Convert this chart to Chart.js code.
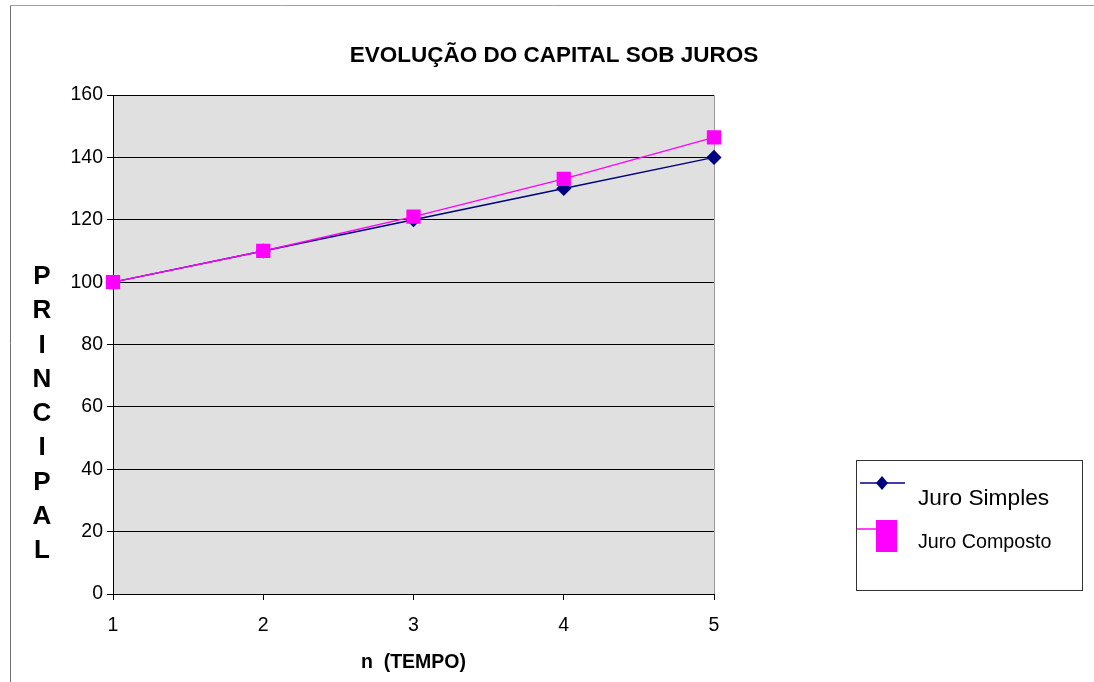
<!DOCTYPE html>
<html>
<head>
<meta charset="utf-8">
<script src="https://cdn.jsdelivr.net/npm/chart.js@4"></script>
<style>
  html, body { margin: 0; padding: 0; background: #fff; }
  #chart { display: block; }
</style>
</head>
<body>
<canvas id="chart" width="1094" height="682"></canvas>
<script>
const periods = ["1", "2", "3", "4", "5"];
const juroSimples = [100, 110, 120, 130, 140];
const juroComposto = [100, 110, 121, 133.1, 146.41];
const seriesNames = ["Juro Simples", "Juro Composto"];
const chartTitle = "EVOLUÇÃO DO CAPITAL SOB JUROS";
const yTitle = "PRINCIPAL";
const xTitle = "n  (TEMPO)";

const FONT = "'Liberation Sans', Arial, sans-serif";

const decor = {
  id: "decor",
  beforeDraw(chart) {
    const { ctx, chartArea: a } = chart;
    ctx.save();
    // outer frame
    ctx.strokeStyle = "#a0a0a0";
    ctx.lineWidth = 1;
    ctx.beginPath();
    ctx.moveTo(10.5, 5.5);
    ctx.lineTo(1094, 5.5);
    ctx.stroke();
    ctx.strokeStyle = "#707070";
    ctx.beginPath();
    ctx.moveTo(10.5, 5.5);
    ctx.lineTo(10.5, 682);
    ctx.stroke();
    // plot background
    ctx.fillStyle = "#e0e0e0";
    ctx.fillRect(a.left, a.top, a.right - a.left, a.bottom - a.top);
    ctx.strokeStyle = "#9a9a9a";
    ctx.beginPath();
    ctx.moveTo(a.left, a.top + 0.5);
    ctx.lineTo(a.right + 0.5, a.top + 0.5);
    ctx.lineTo(a.right + 0.5, a.bottom);
    ctx.stroke();
    ctx.restore();
  },
  afterDraw(chart) {
    const ctx = chart.ctx;
    ctx.save();
    ctx.fillStyle = "#000";
    // title
    ctx.font = "bold 22.5px " + FONT;
    ctx.textAlign = "center";
    ctx.textBaseline = "middle";
    ctx.fillText(chartTitle, 554, 56);
    // stacked y title
    ctx.font = "bold 26px " + FONT;
    yTitle.split("").forEach((ch, i) => {
      ctx.fillText(ch, 42, 277 + i * 34.25);
    });
    // legend box
    ctx.strokeStyle = "#333";
    ctx.lineWidth = 1;
    ctx.strokeRect(856.5, 460.5, 226, 130);
    const ds = chart.data.datasets;
    // Juro Simples
    ctx.strokeStyle = ds[0].borderColor;
    ctx.lineWidth = 1.5;
    ctx.beginPath();
    ctx.moveTo(860, 483);
    ctx.lineTo(905, 483);
    ctx.stroke();
    ctx.fillStyle = ds[0].borderColor;
    ctx.beginPath();
    ctx.moveTo(882, 476);
    ctx.lineTo(888, 483);
    ctx.lineTo(882, 490);
    ctx.lineTo(876, 483);
    ctx.closePath();
    ctx.fill();
    ctx.fillStyle = "#000";
    ctx.textAlign = "left";
    ctx.font = "22.7px " + FONT;
    ctx.fillText(seriesNames[0], 918, 499);
    // Juro Composto
    ctx.strokeStyle = ds[1].borderColor;
    ctx.beginPath();
    ctx.moveTo(857, 529);
    ctx.lineTo(877, 529);
    ctx.stroke();
    ctx.fillStyle = ds[1].borderColor;
    ctx.fillRect(876, 520, 21, 32);
    ctx.fillStyle = "#000";
    ctx.font = "19.7px " + FONT;
    ctx.fillText(seriesNames[1], 918, 543);
    ctx.restore();
  }
};

new Chart(document.getElementById("chart"), {
  type: "line",
  data: {
    labels: periods,
    datasets: [
      {
        label: seriesNames[0],
        data: juroSimples,
        borderColor: "#000080",
        backgroundColor: "#000080",
        borderWidth: 1.5,
        pointStyle: "rectRot",
        pointRadius: 6.5,
        pointHoverRadius: 6.5,
        tension: 0,
        clip: false,
        order: 2,
      },
      {
        label: seriesNames[1],
        data: juroComposto,
        borderColor: "#ff00ff",
        backgroundColor: "#ff00ff",
        borderWidth: 1.5,
        pointStyle: "rect",
        pointRadius: 9,
        pointHoverRadius: 9,
        tension: 0,
        clip: false,
        order: 1,
      },
    ],
  },
  options: {
    responsive: false,
    animation: false,
    layout: { padding: { top: 95, right: 380, left: 0, bottom: 0 } },
    plugins: {
      legend: { display: false },
      title: { display: false },
      tooltip: { enabled: false },
    },
    scales: {
      x: {
        offset: false,
        grid: { drawOnChartArea: false, drawTicks: true, tickLength: 6, color: "#000" },
        border: { color: "#000", width: 1 },
        ticks: { color: "#000", font: { family: FONT, size: 19.5 }, padding: 14, maxRotation: 0 },
        title: {
          display: true,
          text: xTitle,
          color: "#000",
          font: { family: FONT, size: 19.5, weight: "bold" },
          padding: { top: 4, bottom: 8 },
        },
        afterFit(s) { s.height = 88; },
      },
      y: {
        min: 0,
        max: 160,
        grid: { color: "#000", lineWidth: 1, tickLength: 6 },
        border: { color: "#000", width: 1 },
        ticks: { stepSize: 20, color: "#000", font: { family: FONT, size: 19.5 }, padding: 4 },
        afterFit(s) { s.width = 113; },
      },
    },
  },
  plugins: [decor],
});
</script>
</body>
</html>
